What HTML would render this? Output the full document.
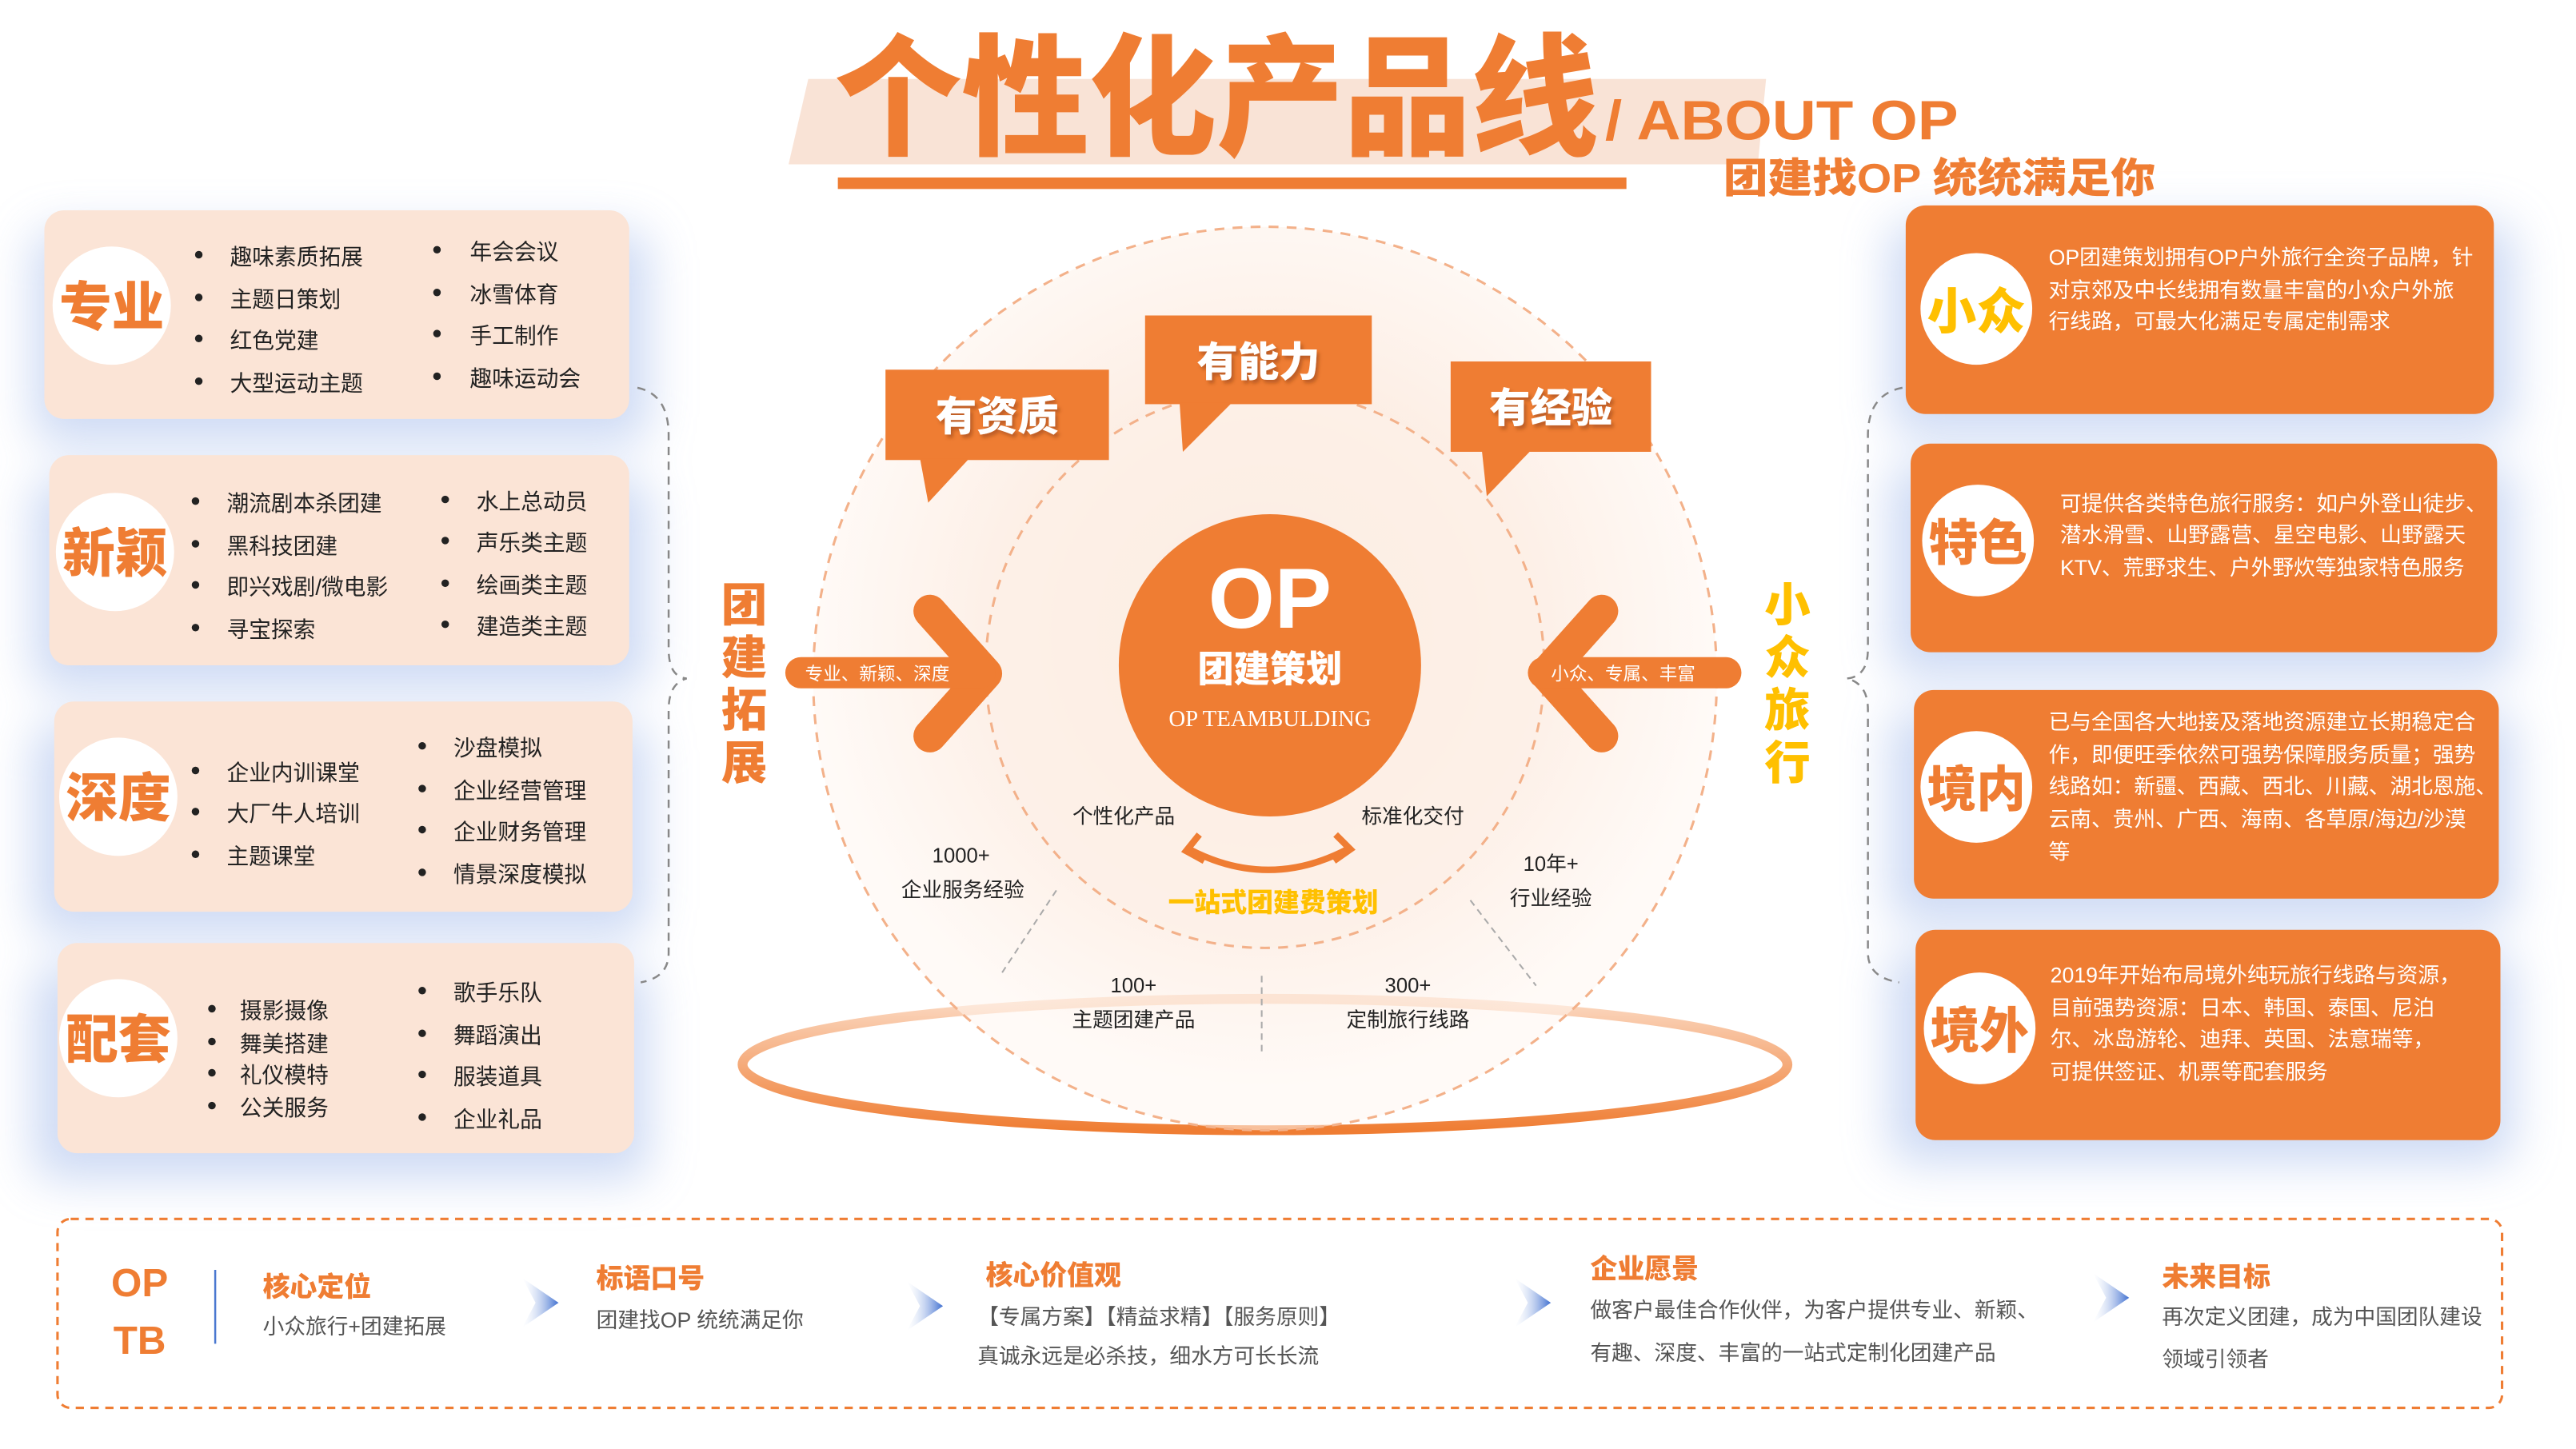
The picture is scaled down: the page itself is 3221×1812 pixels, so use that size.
<!DOCTYPE html>
<html><head><meta charset="utf-8">
<style>
html,body{margin:0;padding:0;background:#fff;}
svg{display:block;}
text{font-family:"Liberation Sans","Noto Sans CJK SC",sans-serif;}
.s{font-family:"Liberation Serif","Noto Serif CJK SC",serif;}
.b{font-weight:900;}
</style></head>
<body>
<svg width="3221" height="1812" viewBox="0 0 1568 882" xmlns="http://www.w3.org/2000/svg">
<defs>
<filter id="blur" x="-30%" y="-30%" width="160%" height="160%"><feGaussianBlur stdDeviation="14"/></filter>
<filter id="sh"><feDropShadow dx="1.5" dy="2" stdDeviation="1" flood-color="#8a3a10" flood-opacity="0.5"/></filter>
<radialGradient id="bg1" cx="50%" cy="45%" r="50%">
<stop offset="0" stop-color="#f6c7a6"/><stop offset="0.6" stop-color="#fbe3d3"/><stop offset="1" stop-color="#fff6f0"/></radialGradient>
<linearGradient id="ring" x1="0" y1="0" x2="0" y2="1"><stop offset="0" stop-color="#fbd9c2"/><stop offset="1" stop-color="#ef7d33"/></linearGradient>
<linearGradient id="barr" x1="0" x2="1"><stop offset="0" stop-color="#d8e2f5" stop-opacity="0"/><stop offset="1" stop-color="#3f6fd0"/></linearGradient>
</defs>

<g filter="url(#blur)" fill="#b9cbf0" opacity="0.7">
<rect x="20" y="140" width="375" height="130" rx="14"/>
<rect x="20" y="290" width="375" height="130" rx="14"/>
<rect x="20" y="440" width="375" height="130" rx="14"/>
<rect x="20" y="588" width="375" height="130" rx="14"/>
<rect x="1150" y="135" width="380" height="130" rx="14"/>
<rect x="1150" y="282" width="380" height="130" rx="14"/>
<rect x="1150" y="432" width="380" height="130" rx="14"/>
<rect x="1150" y="578" width="380" height="130" rx="14"/>
</g>

<polygon points="492,48 1075,48 1070,100 480,100" fill="#f9e3d6"/>
<text x="508" y="88" font-size="80" fill="#ef7d33" class="b" textLength="465" lengthAdjust="spacingAndGlyphs">个性化产品线</text>
<text x="977" y="85" font-size="34" fill="#ef7d33" class="b" textLength="215" lengthAdjust="spacingAndGlyphs">/ ABOUT OP</text>
<text x="1049" y="117" font-size="25" fill="#ef7d33" class="b" textLength="263" lengthAdjust="spacingAndGlyphs">团建找OP  统统满足你</text>
<rect x="510" y="108" width="480" height="7" fill="#ef7d33"/>

<g font-size="13.5" fill="#222" class="s">
<rect x="27" y="128" width="356" height="127" rx="12" fill="#fbe4d6"/>
<circle cx="68" cy="186" r="36" fill="#fff"/>
<text x="68" y="198" font-size="32" fill="#ef7d33" class="b" text-anchor="middle" font-family="Liberation Sans,Noto Sans CJK SC,sans-serif">专业</text>
<g><circle cx="121" cy="155" r="2.3"/><text x="140" y="161">趣味素质拓展</text>
<circle cx="121" cy="181" r="2.3"/><text x="140" y="187">主题日策划</text>
<circle cx="121" cy="206" r="2.3"/><text x="140" y="212">红色党建</text>
<circle cx="121" cy="232" r="2.3"/><text x="140" y="238">大型运动主题</text>
<circle cx="266" cy="152" r="2.3"/><text x="286" y="158">年会会议</text>
<circle cx="266" cy="178" r="2.3"/><text x="286" y="184">冰雪体育</text>
<circle cx="266" cy="203" r="2.3"/><text x="286" y="209">手工制作</text>
<circle cx="266" cy="229" r="2.3"/><text x="286" y="235">趣味运动会</text></g>

<rect x="30" y="277" width="353" height="128" rx="12" fill="#fbe4d6"/>
<circle cx="70" cy="336" r="36" fill="#fff"/>
<text x="70" y="348" font-size="32" fill="#ef7d33" class="b" text-anchor="middle" font-family="Liberation Sans,Noto Sans CJK SC,sans-serif">新颖</text>
<circle cx="119" cy="305" r="2.3"/><text x="138" y="311">潮流剧本杀团建</text>
<circle cx="119" cy="331" r="2.3"/><text x="138" y="337">黑科技团建</text>
<circle cx="119" cy="356" r="2.3"/><text x="138" y="362">即兴戏剧/微电影</text>
<circle cx="119" cy="382" r="2.3"/><text x="138" y="388">寻宝探索</text>
<circle cx="271" cy="304" r="2.3"/><text x="290" y="310">水上总动员</text>
<circle cx="271" cy="329" r="2.3"/><text x="290" y="335">声乐类主题</text>
<circle cx="271" cy="355" r="2.3"/><text x="290" y="361">绘画类主题</text>
<circle cx="271" cy="380" r="2.3"/><text x="290" y="386">建造类主题</text>

<rect x="33" y="427" width="352" height="128" rx="12" fill="#fbe4d6"/>
<circle cx="72" cy="485" r="36" fill="#fff"/>
<text x="72" y="497" font-size="32" fill="#ef7d33" class="b" text-anchor="middle" font-family="Liberation Sans,Noto Sans CJK SC,sans-serif">深度</text>
<circle cx="119" cy="469" r="2.3"/><text x="138" y="475">企业内训课堂</text>
<circle cx="119" cy="494" r="2.3"/><text x="138" y="500">大厂牛人培训</text>
<circle cx="119" cy="520" r="2.3"/><text x="138" y="526">主题课堂</text>
<circle cx="257" cy="454" r="2.3"/><text x="276" y="460">沙盘模拟</text>
<circle cx="257" cy="480" r="2.3"/><text x="276" y="486">企业经营管理</text>
<circle cx="257" cy="505" r="2.3"/><text x="276" y="511">企业财务管理</text>
<circle cx="257" cy="531" r="2.3"/><text x="276" y="537">情景深度模拟</text>

<rect x="35" y="574" width="351" height="128" rx="12" fill="#fbe4d6"/>
<circle cx="72" cy="632" r="36" fill="#fff"/>
<text x="72" y="644" font-size="32" fill="#ef7d33" class="b" text-anchor="middle" font-family="Liberation Sans,Noto Sans CJK SC,sans-serif">配套</text>
<circle cx="129" cy="614" r="2.3"/><text x="146" y="620">摄影摄像</text>
<circle cx="129" cy="634" r="2.3"/><text x="146" y="640">舞美搭建</text>
<circle cx="129" cy="653" r="2.3"/><text x="146" y="659">礼仪模特</text>
<circle cx="129" cy="673" r="2.3"/><text x="146" y="679">公关服务</text>
<circle cx="257" cy="603" r="2.3"/><text x="276" y="609">歌手乐队</text>
<circle cx="257" cy="629" r="2.3"/><text x="276" y="635">舞蹈演出</text>
<circle cx="257" cy="654" r="2.3"/><text x="276" y="660">服装道具</text>
<circle cx="257" cy="680" r="2.3"/><text x="276" y="686">企业礼品</text>
</g>

<g fill="none" stroke="#888" stroke-width="1.2" stroke-dasharray="5,4">
<path d="M388,236 Q407,240 407,265 L407,395 Q407,412 418,413 Q407,416 407,432 L407,580 Q407,595 390,598"/>
<path d="M1158,236 Q1137,240 1137,265 L1137,395 Q1137,412 1124,413 Q1137,416 1137,432 L1137,580 Q1137,595 1156,598"/>
</g>

<g fill="#fff" font-size="13" class="s">
<rect x="1160" y="125" width="358" height="127" rx="12" fill="#ef7d33"/>
<circle cx="1203" cy="188" r="34" fill="#fff"/>
<text x="1203" y="200" font-size="30" fill="#ffc000" class="b" text-anchor="middle" font-family="Liberation Sans,Noto Sans CJK SC,sans-serif">小众</text>
<text x="1247" y="161">OP团建策划拥有OP户外旅行全资子品牌，针</text>
<text x="1247" y="181">对京郊及中长线拥有数量丰富的小众户外旅</text>
<text x="1247" y="200">行线路，可最大化满足专属定制需求</text>

<rect x="1163" y="270" width="357" height="127" rx="12" fill="#ef7d33"/>
<circle cx="1204" cy="329" r="34" fill="#fff"/>
<text x="1204" y="341" font-size="30" fill="#ef7d33" class="b" text-anchor="middle" font-family="Liberation Sans,Noto Sans CJK SC,sans-serif">特色</text>
<text x="1254" y="311">可提供各类特色旅行服务：如户外登山徒步、</text>
<text x="1254" y="330">潜水滑雪、山野露营、星空电影、山野露天</text>
<text x="1254" y="350">KTV、荒野求生、户外野炊等独家特色服务</text>

<rect x="1165" y="420" width="356" height="127" rx="12" fill="#ef7d33"/>
<circle cx="1203" cy="479" r="34" fill="#fff"/>
<text x="1203" y="491" font-size="30" fill="#ef7d33" class="b" text-anchor="middle" font-family="Liberation Sans,Noto Sans CJK SC,sans-serif">境内</text>
<text x="1247" y="444">已与全国各大地接及落地资源建立长期稳定合</text>
<text x="1247" y="464">作，即便旺季依然可强势保障服务质量；强势</text>
<text x="1247" y="483">线路如：新疆、西藏、西北、川藏、湖北恩施、</text>
<text x="1247" y="503">云南、贵州、广西、海南、各草原/海边/沙漠</text>
<text x="1247" y="523">等</text>

<rect x="1166" y="566" width="356" height="128" rx="12" fill="#ef7d33"/>
<circle cx="1205" cy="626" r="34" fill="#fff"/>
<text x="1205" y="638" font-size="30" fill="#ef7d33" class="b" text-anchor="middle" font-family="Liberation Sans,Noto Sans CJK SC,sans-serif">境外</text>
<text x="1248" y="598">2019年开始布局境外纯玩旅行线路与资源，</text>
<text x="1248" y="618">目前强势资源：日本、韩国、泰国、尼泊</text>
<text x="1248" y="637">尔、冰岛游轮、迪拜、英国、法意瑞等，</text>
<text x="1248" y="657">可提供签证、机票等配套服务</text>
</g>

<ellipse cx="770" cy="648" rx="318" ry="40" fill="none" stroke="url(#ring)" stroke-width="6"/>
<circle cx="770" cy="413" r="275" fill="url(#bg1)" opacity="0.55"/>
<circle cx="770" cy="413" r="275" fill="none" stroke="#f3b18a" stroke-width="1.5" stroke-dasharray="6,5"/>
<circle cx="770" cy="407" r="170" fill="#fdf0e7" opacity="0.8"/>
<circle cx="770" cy="407" r="170" fill="none" stroke="#f3b18a" stroke-width="1.5" stroke-dasharray="6,5"/>
<circle cx="773" cy="405" r="92" fill="#ef7d33"/>
<text x="773" y="382" font-size="52" fill="#fff" class="b" text-anchor="middle">OP</text>
<text x="773" y="415" font-size="22" fill="#fff" class="b" text-anchor="middle">团建策划</text>
<text x="773" y="442" font-size="14" fill="#fff" text-anchor="middle" class="s">OP  TEAMBULDING</text>

<g fill="#ef7d33">
<rect x="539" y="225" width="136" height="55"/><polygon points="560,279 590,279 565,306"/>
<rect x="697" y="192" width="138" height="54"/><polygon points="718,245 750,245 720,275"/>
<rect x="883" y="220" width="122" height="55"/><polygon points="902,274 932,274 905,302"/>
</g>
<g fill="#fff" font-size="25" class="b" filter="url(#sh)" text-anchor="middle">
<text x="607" y="262">有资质</text>
<text x="766" y="229">有能力</text>
<text x="944" y="257">有经验</text>
</g>

<g fill="none" stroke="#ef7d33" stroke-width="20" stroke-linecap="round" stroke-linejoin="round">
<polyline points="566,372 600,410 566,448"/>
<polyline points="975,372 941,410 975,448"/>
</g>
<rect x="478" y="400" width="128" height="19" rx="9.5" fill="#ef7d33"/>
<rect x="930" y="400" width="130" height="19" rx="9.5" fill="#ef7d33"/>
<text x="534" y="414" font-size="11" fill="#fff" text-anchor="middle">专业、新颖、深度</text>
<text x="988" y="414" font-size="11" fill="#fff" text-anchor="middle">小众、专属、丰富</text>

<g font-size="28" class="b" text-anchor="middle">
<text x="453" y="378" fill="#ef7d33">团</text><text x="453" y="410" fill="#ef7d33">建</text>
<text x="453" y="442" fill="#ef7d33">拓</text><text x="453" y="474" fill="#ef7d33">展</text>
<text x="1088" y="378" fill="#ffc000">小</text><text x="1088" y="410" fill="#ffc000">众</text>
<text x="1088" y="442" fill="#ffc000">旅</text><text x="1088" y="474" fill="#ffc000">行</text>
</g>

<g font-size="12.5" fill="#222" class="s" text-anchor="middle">
<text x="684" y="501">个性化产品</text>
<text x="860" y="501">标准化交付</text>
<text x="585" y="525">1000+</text><text x="586" y="546">企业服务经验</text>
<text x="944" y="530">10年+</text><text x="944" y="551">行业经验</text>
<text x="690" y="604">100+</text><text x="690" y="625">主题团建产品</text>
<text x="857" y="604">300+</text><text x="857" y="625">定制旅行线路</text>
</g>
<path d="M724,517 Q772,542 820,517" fill="none" stroke="#ef7d33" stroke-width="4"/>
<polyline points="730,508 722,518 733,524" fill="none" stroke="#ef7d33" stroke-width="4"/>
<polyline points="813,508 822,517 812,524" fill="none" stroke="#ef7d33" stroke-width="4"/>
<text x="775" y="555" font-size="16" fill="#ffc000" class="b" text-anchor="middle">一站式团建费策划</text>
<g stroke="#aaa" stroke-width="1" stroke-dasharray="4,3" fill="none">
<line x1="643" y1="542" x2="610" y2="592"/>
<line x1="895" y1="548" x2="935" y2="600"/>
<line x1="768" y1="594" x2="768" y2="642"/>
</g>

<rect x="35" y="742" width="1488" height="115" rx="8" fill="none" stroke="#ef7d33" stroke-width="1.5" stroke-dasharray="5,4"/>
<text x="85" y="789" font-size="24" fill="#ef7d33" class="b" text-anchor="middle">OP</text>
<text x="85" y="824" font-size="24" fill="#ef7d33" class="b" text-anchor="middle">TB</text>
<line x1="131" y1="773" x2="131" y2="818" stroke="#4a78d0" stroke-width="1.2"/>
<g fill="url(#barr)">
<polygon points="318,778 340,793 318,808 326,793"/>
<polygon points="552,780 574,795 552,810 560,795"/>
<polygon points="922,778 944,793 922,808 930,793"/>
<polygon points="1274,775 1296,790 1274,805 1282,790"/>
</g>
<g font-size="16.5" fill="#ef7d33" class="b">
<text x="160" y="789">核心定位</text>
<text x="363" y="784">标语口号</text>
<text x="600" y="782">核心价值观</text>
<text x="968" y="778">企业愿景</text>
<text x="1316" y="783">未来目标</text>
</g>
<g font-size="13" fill="#555" class="s">
<text x="160" y="812">小众旅行+团建拓展</text>
<text x="363" y="808">团建找OP  统统满足你</text>
<text x="595" y="806">【专属方案】【精益求精】【服务原则】</text>
<text x="595" y="830">真诚永远是必杀技，细水方可长长流</text>
<text x="968" y="802">做客户最佳合作伙伴，为客户提供专业、新颖、</text>
<text x="968" y="828">有趣、深度、丰富的一站式定制化团建产品</text>
<text x="1316" y="806">再次定义团建，成为中国团队建设</text>
<text x="1316" y="832">领域引领者</text>
</g>
</svg>
</body></html>
